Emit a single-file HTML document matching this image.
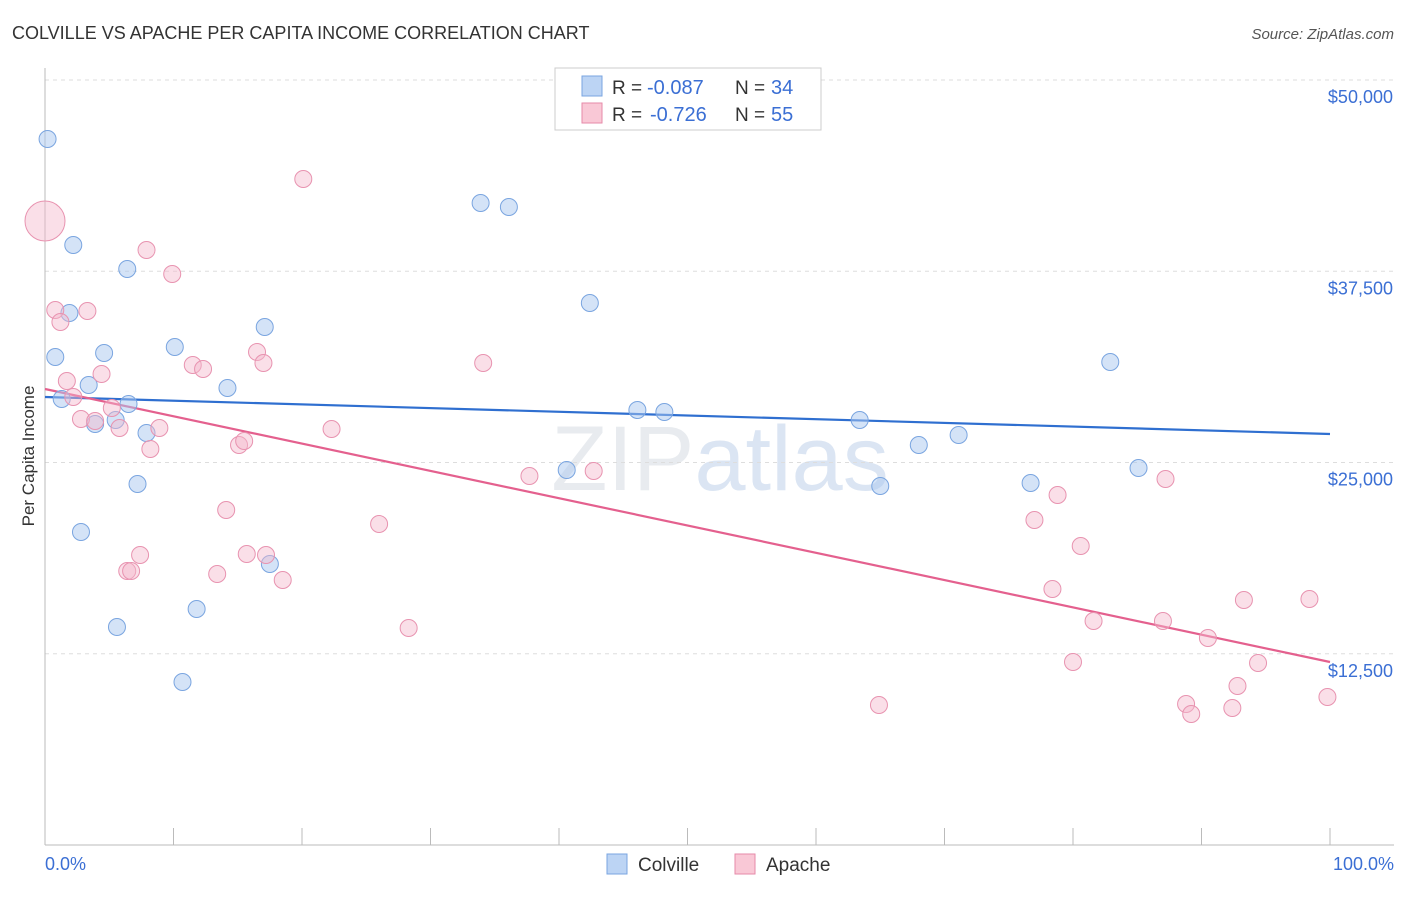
<!DOCTYPE html>
<html><head><meta charset="utf-8"><style>
body{margin:0;background:#fff;font-family:"Liberation Sans",sans-serif}
svg text{font-family:"Liberation Sans",sans-serif}
</style></head><body>
<svg id="chart" width="1406" height="892" xmlns="http://www.w3.org/2000/svg">
<text x="12" y="39" font-size="18" fill="#333">COLVILLE VS APACHE PER CAPITA INCOME CORRELATION CHART</text>
<text x="1394" y="39" font-size="15" fill="#555" font-style="italic" text-anchor="end">Source: ZipAtlas.com</text>
<text x="720" y="490" font-size="92" fill="#e8ebef" text-anchor="middle" font-family="Liberation Serif">ZIP<tspan fill="#dbe5f3" font-family="Liberation Sans">atlas</tspan></text>
<g id="grid"></g><g id="axes"></g><g id="lines"></g><g id="pts"></g>
<text transform="translate(34,456) rotate(-90)" font-size="17" fill="#333" text-anchor="middle">Per Capita Income</text>
<text x="45" y="870" font-size="18" fill="#3b6fd4">0.0%</text>
<text x="1394" y="870" font-size="18" fill="#3b6fd4" text-anchor="end">100.0%</text>
<g>
<rect x="555" y="68" width="266" height="62" fill="#fff" stroke="#ccc"/>
<rect x="582" y="76" width="20" height="20" fill="#bcd4f4" stroke="#7aa5e0"/>
<rect x="582" y="103" width="20" height="20" fill="#f9c8d6" stroke="#e68aa8"/>
<text x="612" y="94" font-size="19" fill="#333">R =</text>
<text x="647" y="94" font-size="20" fill="#3b6fd4">-0.087</text>
<text x="735" y="94" font-size="19" fill="#333">N =</text>
<text x="771" y="94" font-size="20" fill="#3b6fd4">34</text>
<text x="612" y="121" font-size="19" fill="#333">R =</text>
<text x="650" y="121" font-size="20" fill="#3b6fd4">-0.726</text>
<text x="735" y="121" font-size="19" fill="#333">N =</text>
<text x="771" y="121" font-size="20" fill="#3b6fd4">55</text>
</g>
<g>
<rect x="607" y="854" width="20" height="20" fill="#bcd4f4" stroke="#7aa5e0"/>
<text x="638" y="871" font-size="19" fill="#333">Colville</text>
<rect x="735" y="854" width="20" height="20" fill="#f9c8d6" stroke="#e68aa8"/>
<text x="766" y="871" font-size="19" fill="#333">Apache</text>
</g>
</svg>
<script>
const yTicks=[12500,25000,37500,50000];
const yTickLabels=["$12,500","$25,000","$37,500","$50,000"];
const xTicks=[0,10,20,30,40,50,60,70,80,90,100];
const colX=[0.2,2.2,6.4,1.9,0.8,4.6,10.1,17.1,3.4,1.3,6.5,3.9,5.5,7.9,14.2,7.2,2.8,17.5,11.8,5.6,10.7,33.9,36.1,42.4,40.6,46.1,48.2,63.4,68.0,71.1,65.0,76.7,82.9,85.1];
const colY=[46144,39216,37647,34771,31895,32157,32549,33856,30065,29150,28824,27516,27778,26928,29869,23595,20458,18366,15425,14248,10654,41961,41700,35425,24510,28431,28301,27778,26144,26797,23464,23660,31569,24641];
const apX=[0,0.8,3.3,1.2,7.9,9.9,20.1,1.7,4.4,2.2,2.8,3.9,5.2,5.8,8.9,8.2,11.5,12.3,16.5,17.0,15.1,15.5,22.3,14.1,7.4,6.4,6.7,13.4,15.7,17.2,18.5,26.0,28.3,34.1,37.7,42.7,64.9,78.8,77.0,80.6,78.4,81.6,80.0,87.2,87.0,90.5,93.3,98.4,94.4,92.8,88.8,89.2,92.4,99.8];
const apY=[40784,34967,34902,34183,38889,37320,43529,30327,30784,29281,27843,27712,28562,27255,27255,25882,31372,31111,32222,31503,26144,26405,27190,21895,18954,17908,17908,17712,19020,18954,17320,20980,14183,31503,24118,24444,9150,22876,21242,19542,16732,14641,11961,23922,14641,13529,16013,16078,11895,10392,9216,8562,8954,9673];
const colTrend=[29281,26863];
const apTrend=[29804,11961];
const NS="http://www.w3.org/2000/svg";
const X=p=>45+p*12.85, Y=v=>845-v/65.36;
function mk(t,a,parent){const e=document.createElementNS(NS,t);for(const k in a)e.setAttribute(k,a[k]);document.getElementById(parent).appendChild(e);return e;}
yTicks.forEach((v,i)=>{
 const g=mk('line',{x1:45,x2:1394,y1:Y(v),y2:Y(v),stroke:'#ddd','stroke-dasharray':'4,4'},'grid');
 
 
 const t=mk('text',{x:1393,y:Y(v)+23,'font-size':18,fill:'#3b6fd4','text-anchor':'end'},'grid');
 t.textContent=yTickLabels[i];
 
 
});
const ax=mk('line',{x1:45,x2:1394,y1:845,y2:845,stroke:'#bbb'},'axes');


const ay=mk('line',{x1:45,x2:45,y1:68,y2:845,stroke:'#bbb'},'axes');


xTicks.forEach(p=>{const t=mk('line',{x1:X(p),x2:X(p),y1:828,y2:845,stroke:'#bbb'},'axes');
 
 });
colX.forEach((p,i)=>{const c=mk('circle',{cx:X(p),cy:Y(colY[i]),r:8.5,fill:'rgba(170,200,240,0.5)',stroke:'#7aa5e0','stroke-width':1},'pts');
 
 });
apX.forEach((p,i)=>{const c=mk('circle',{cx:X(p),cy:Y(apY[i]),r:i===0?20:8.5,fill:'rgba(245,185,205,0.45)',stroke:'#e893b0','stroke-width':1},'pts');
 
 });
const l1=mk('line',{x1:X(0),x2:X(100),y1:Y(colTrend[0]),y2:Y(colTrend[1]),stroke:'#2f6fd0','stroke-width':2.2},'lines');


const l2=mk('line',{x1:X(0),x2:X(100),y1:Y(apTrend[0]),y2:Y(apTrend[1]),stroke:'#e4608e','stroke-width':2.2},'lines');


</script>
</body></html>
